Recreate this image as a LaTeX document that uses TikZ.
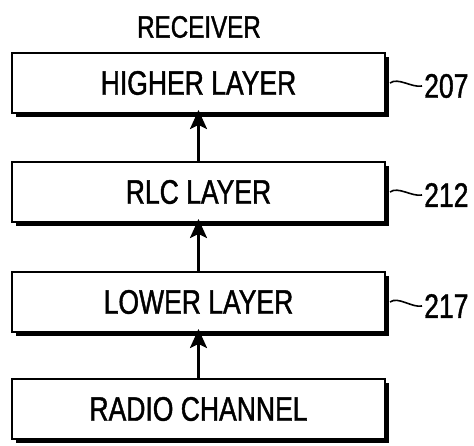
\documentclass[tikz,border=0pt]{standalone}
\usepackage{fontspec}
\setmainfont{Liberation Sans}[FakeStretch=0.78, FakeBold=1.2]
\usepackage{tikz}
\usetikzlibrary{arrows.meta,shadows}

\begin{document}
\begin{tikzpicture}[
  x=1pt, y=-1pt,
  layerbox/.style={draw, line width=2pt, fill=white, minimum width=373pt, minimum height=60pt,
    inner sep=0pt, font=\fontsize{34}{38}\selectfont,
    drop shadow={shadow xshift=4pt, shadow yshift=-4pt, fill=black, opacity=1}},
  flow/.style={-{Stealth[length=19pt, width=17pt, inset=4pt]}, line width=2.4pt, shorten >=-4pt},
  refnum/.style={anchor=west, inner sep=0pt, font=\fontsize{34}{38}\selectfont},
  leader/.style={line width=1.6pt}
]
\useasboundingbox (0,0) rectangle (474,445);

\node[font=\fontsize{31}{35}\selectfont] (title) at (199,27) {RECEIVER};
\node[layerbox] (higher) at (198.5,83) {HIGHER LAYER};
\node[layerbox] (rlc) at (198.5,192) {RLC LAYER};
\node[layerbox] (lower) at (198.5,302) {LOWER LAYER};
\node[layerbox] (radio) at (198.5,409) {RADIO CHANNEL};

\draw[flow] (radio.north) -- (lower.south);
\draw[flow] (lower.north) -- (rlc.south);
\draw[flow] (rlc.north) -- (higher.south);

\node[refnum] (n207) at (424,86) {207};
\node[refnum] (n212) at (424,195) {212};
\node[refnum] (n217) at (424,306) {217};

\draw[leader] ([xshift=4pt]higher.east) .. controls +(8,-6) and +(-10,2) .. ([xshift=-2pt]n207.west);
\draw[leader] ([xshift=4pt]rlc.east) .. controls +(8,-6) and +(-10,2) .. ([xshift=-2pt]n212.west);
\draw[leader] ([xshift=4pt]lower.east) .. controls +(8,-6) and +(-10,2) .. ([xshift=-2pt]n217.west);
\end{tikzpicture}
\end{document}
